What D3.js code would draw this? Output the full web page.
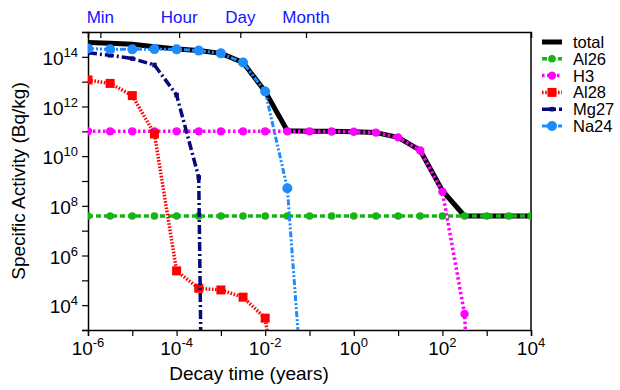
<!DOCTYPE html>
<html>
<head>
<meta charset="utf-8">
<script src="https://cdn.jsdelivr.net/npm/d3@7"></script>
<style>
  body { margin: 0; background: #fff; }
  text { font-family: 'Liberation Sans', Arial, Helvetica, sans-serif; }
</style>
</head>
<body>
<div id="chart"></div>
<script>
// decay time grid in years (half-decade steps)
const times = [1e-6, 3.16e-6, 1e-5, 3.16e-5, 1e-4, 3.16e-4, 1e-3, 3.16e-3, 1e-2, 3.16e-2,
  0.1, 0.316, 1, 3.16, 10, 31.6, 100, 316, 1000, 3160, 10000]

// specific activity in Bq/kg, null = not drawn
const total = [3.8e14, 3.55e14, 3.2e14, 2.55e14, 2.05e14, 1.8e14, 1.38e14, 5.9e13, 4.0e12, 1.05e11,
  1.0e11, 1.0e11, 9.6e10, 8.9e10, 5.7e10, 1.7e10, 4.1e8, 3.9e7, 3.9e7, 3.9e7, 3.9e7]
const al26 = [3.9e7, 3.9e7, 3.9e7, 3.9e7, 3.9e7, 3.9e7, 3.9e7, 3.9e7, 3.9e7, 3.9e7,
  3.9e7, 3.9e7, 3.9e7, 3.9e7, 3.9e7, 3.9e7, 3.9e7, 3.9e7, 3.9e7, 3.9e7, 3.9e7]
const h3 = [1.0e11, 1.0e11, 1.0e11, 1.0e11, 1.0e11, 1.0e11, 1.0e11, 1.0e11, 1.0e11, 1.0e11,
  1.0e11, 9.9e10, 9.6e10, 8.9e10, 5.7e10, 1.7e10, 3.7e8, 4.4e3, 1e-13, null, null]
const al28 = [1.17e13, 8.5e12, 2.75e12, 7.8e10, 2.4e5, 4.8e4, 4.1e4, 2.1e4, 3.0e3, 2.5e-3,
  null, null, null, null, null, null, null, null, null, null, null]
const mg27 = [1.45e14, 1.15e14, 8.5e13, 4.7e13, 2.9e12, 1.4e9, 1e-60, null, null, null,
  null, null, null, null, null, null, null, null, null, null, null]
const na24 = [2.15e14, 2.0e14, 2.0e14, 2.05e14, 2.0e14, 1.78e14, 1.38e14, 5.9e13, 4.0e12, 5.1e8,
  5e-4, null, null, null, null, null, null, null, null, null, null]

const xTicks = [-6, -5, -4, -3, -2, -1, 0, 1, 2, 3, 4]
const yTicks = [3, 4, 5, 6, 7, 8, 9, 10, 11, 12, 13, 14, 15]

const topLabels = ['Min', 'Hour', 'Day', 'Month']
const topTimes = [1 / 525960, 1 / 8766, 1 / 365.25, 1 / 12]

const series = [
  { name: 'total', values: total, color: '#000000', width: 5, dash: null, marker: null },
  { name: 'Al26', values: al26, color: '#16b416', width: 3.5, dash: '5,3', marker: 'circle', size: 3.8 },
  { name: 'H3', values: h3, color: '#ff00ff', width: 3.5, dash: '2.5,2.5', marker: 'circle', size: 4.2 },
  { name: 'Al28', values: al28, color: '#ff0000', width: 3.5, dash: '1.6,1.6', marker: 'square', size: 9 },
  { name: 'Mg27', values: mg27, color: '#08087e', width: 3.5, dash: '9,3,2,3', marker: 'square', size: 4.5 },
  { name: 'Na24', values: na24, color: '#1c8cff', width: 3, dash: '6,2,2,2,2,2', marker: 'circle', size: 5 }
]

const width = 620
const height = 390
const margin = { left: 88, right: 531, top: 32, bottom: 330 }

const svg = d3
  .select('#chart')
  .append('svg')
  .attr('width', width)
  .attr('height', height)

const xScale = d3.scaleLog().domain([1e-6, 1e4]).range([margin.left, margin.right])
const yScale = d3.scaleLog().domain([1e3, 1e15]).range([margin.bottom, margin.top])

svg
  .append('clipPath')
  .attr('id', 'plot-clip')
  .append('rect')
  .attr('x', margin.left)
  .attr('y', margin.top)
  .attr('width', margin.right - margin.left)
  .attr('height', margin.bottom - margin.top)

// superscript labels like 10^-6
function powerLabel(sel, exp, baseSize, supSize) {
  sel.text(null)
  sel.append('tspan').text('10').attr('font-size', baseSize)
  sel
    .append('tspan')
    .text(exp)
    .attr('font-size', supSize)
    .attr('dy', -8)
}

// bottom axis
const xAxis = svg
  .append('g')
  .attr('transform', 'translate(0,' + margin.bottom + ')')
  .call(
    d3
      .axisBottom(xScale)
      .tickValues(xTicks.map(d => Math.pow(10, d)))
      .tickSize(6)
      .tickFormat('')
  )
xAxis.select('.domain').attr('stroke-width', 1.5)
xAxis.selectAll('.tick line').attr('stroke-width', 1.2)

svg
  .selectAll('.x-label')
  .data(xTicks.filter(d => d % 2 === 0))
  .enter()
  .append('text')
  .attr('class', 'x-label')
  .attr('x', d => xScale(Math.pow(10, d)))
  .attr('y', 355)
  .attr('text-anchor', 'middle')
  .attr('fill', '#000')
  .each(function(d) {
    powerLabel(d3.select(this), d, 19, 13)
  })

// left axis
const yAxis = svg
  .append('g')
  .attr('transform', 'translate(' + margin.left + ',0)')
  .call(
    d3
      .axisLeft(yScale)
      .tickValues(yTicks.map(d => Math.pow(10, d)))
      .tickSize(6)
      .tickFormat('')
  )
yAxis.select('.domain').attr('stroke-width', 1.5)
yAxis.selectAll('.tick line').attr('stroke-width', 1.2)

svg
  .selectAll('.y-label')
  .data(yTicks.filter(d => d % 2 === 0 && d > 3))
  .enter()
  .append('text')
  .attr('class', 'y-label')
  .attr('x', 78)
  .attr('y', d => yScale(Math.pow(10, d)) + 8)
  .attr('text-anchor', 'end')
  .attr('fill', '#000')
  .each(function(d) {
    powerLabel(d3.select(this), d, 19, 13)
  })

// top axis with time units
const topAxis = svg
  .append('g')
  .attr('transform', 'translate(0,' + margin.top + ')')
  .call(
    d3
      .axisTop(xScale)
      .tickValues(topTimes)
      .tickSize(-6)
      .tickFormat('')
  )
topAxis.select('.domain').attr('stroke-width', 1.5)
topAxis.selectAll('.tick line').attr('stroke-width', 1.2)

svg
  .selectAll('.top-label')
  .data(topTimes)
  .enter()
  .append('text')
  .attr('class', 'top-label')
  .attr('x', d => xScale(d))
  .attr('y', 23)
  .attr('text-anchor', 'middle')
  .attr('font-size', 17)
  .attr('fill', '#1414ff')
  .text((d, i) => topLabels[i])

// right frame line
svg
  .append('line')
  .attr('x1', margin.right)
  .attr('x2', margin.right)
  .attr('y1', margin.top)
  .attr('y2', margin.bottom)
  .attr('stroke', '#000')
  .attr('stroke-width', 1.5)

// axis titles
svg
  .append('text')
  .attr('x', 249)
  .attr('y', 380)
  .attr('text-anchor', 'middle')
  .attr('font-size', 19)
  .text('Decay time (years)')

svg
  .append('text')
  .attr('transform', 'translate(25,181) rotate(-90)')
  .attr('text-anchor', 'middle')
  .attr('font-size', 19)
  .text('Specific Activity (Bq/kg)')

// data lines
const plot = svg.append('g').attr('clip-path', 'url(#plot-clip)')

function drawMarker(g, s, x, y) {
  if (s.marker === 'circle') {
    g.append('circle')
      .attr('cx', x)
      .attr('cy', y)
      .attr('r', s.size)
      .attr('fill', s.color)
  } else if (s.marker === 'square') {
    g.append('rect')
      .attr('x', x - s.size / 2)
      .attr('y', y - s.size / 2)
      .attr('width', s.size)
      .attr('height', s.size)
      .attr('fill', s.color)
  }
}

series.forEach(s => {
  const points = times
    .map((t, i) => ({ t: t, v: s.values[i] }))
    .filter(d => d.v !== null)

  const line = d3
    .line()
    .x(d => xScale(d.t))
    .y(d => yScale(d.v))

  const g = plot.append('g').attr('class', 'series-' + s.name)

  g.append('path')
    .datum(points)
    .attr('d', line)
    .attr('fill', 'none')
    .attr('stroke', s.color)
    .attr('stroke-width', s.width)
    .attr('stroke-dasharray', s.dash)
    .attr('stroke-linejoin', 'round')

  if (s.marker) {
    points.forEach(d => drawMarker(g, s, xScale(d.t), yScale(d.v)))
  }
})

// legend
const legend = svg.append('g').attr('transform', 'translate(542,42)')

series.forEach((s, i) => {
  const row = legend.append('g').attr('transform', 'translate(0,' + i * 16.8 + ')')
  row
    .append('line')
    .attr('x1', 0)
    .attr('x2', 20)
    .attr('y1', 0)
    .attr('y2', 0)
    .attr('stroke', s.color)
    .attr('stroke-width', s.width)
    .attr('stroke-dasharray', s.dash)
  if (s.marker) drawMarker(row, s, 10, 0)
  row
    .append('text')
    .attr('x', 31)
    .attr('y', 6)
    .attr('font-size', 16.5)
    .text(s.name)
})
</script>
</body>
</html>
